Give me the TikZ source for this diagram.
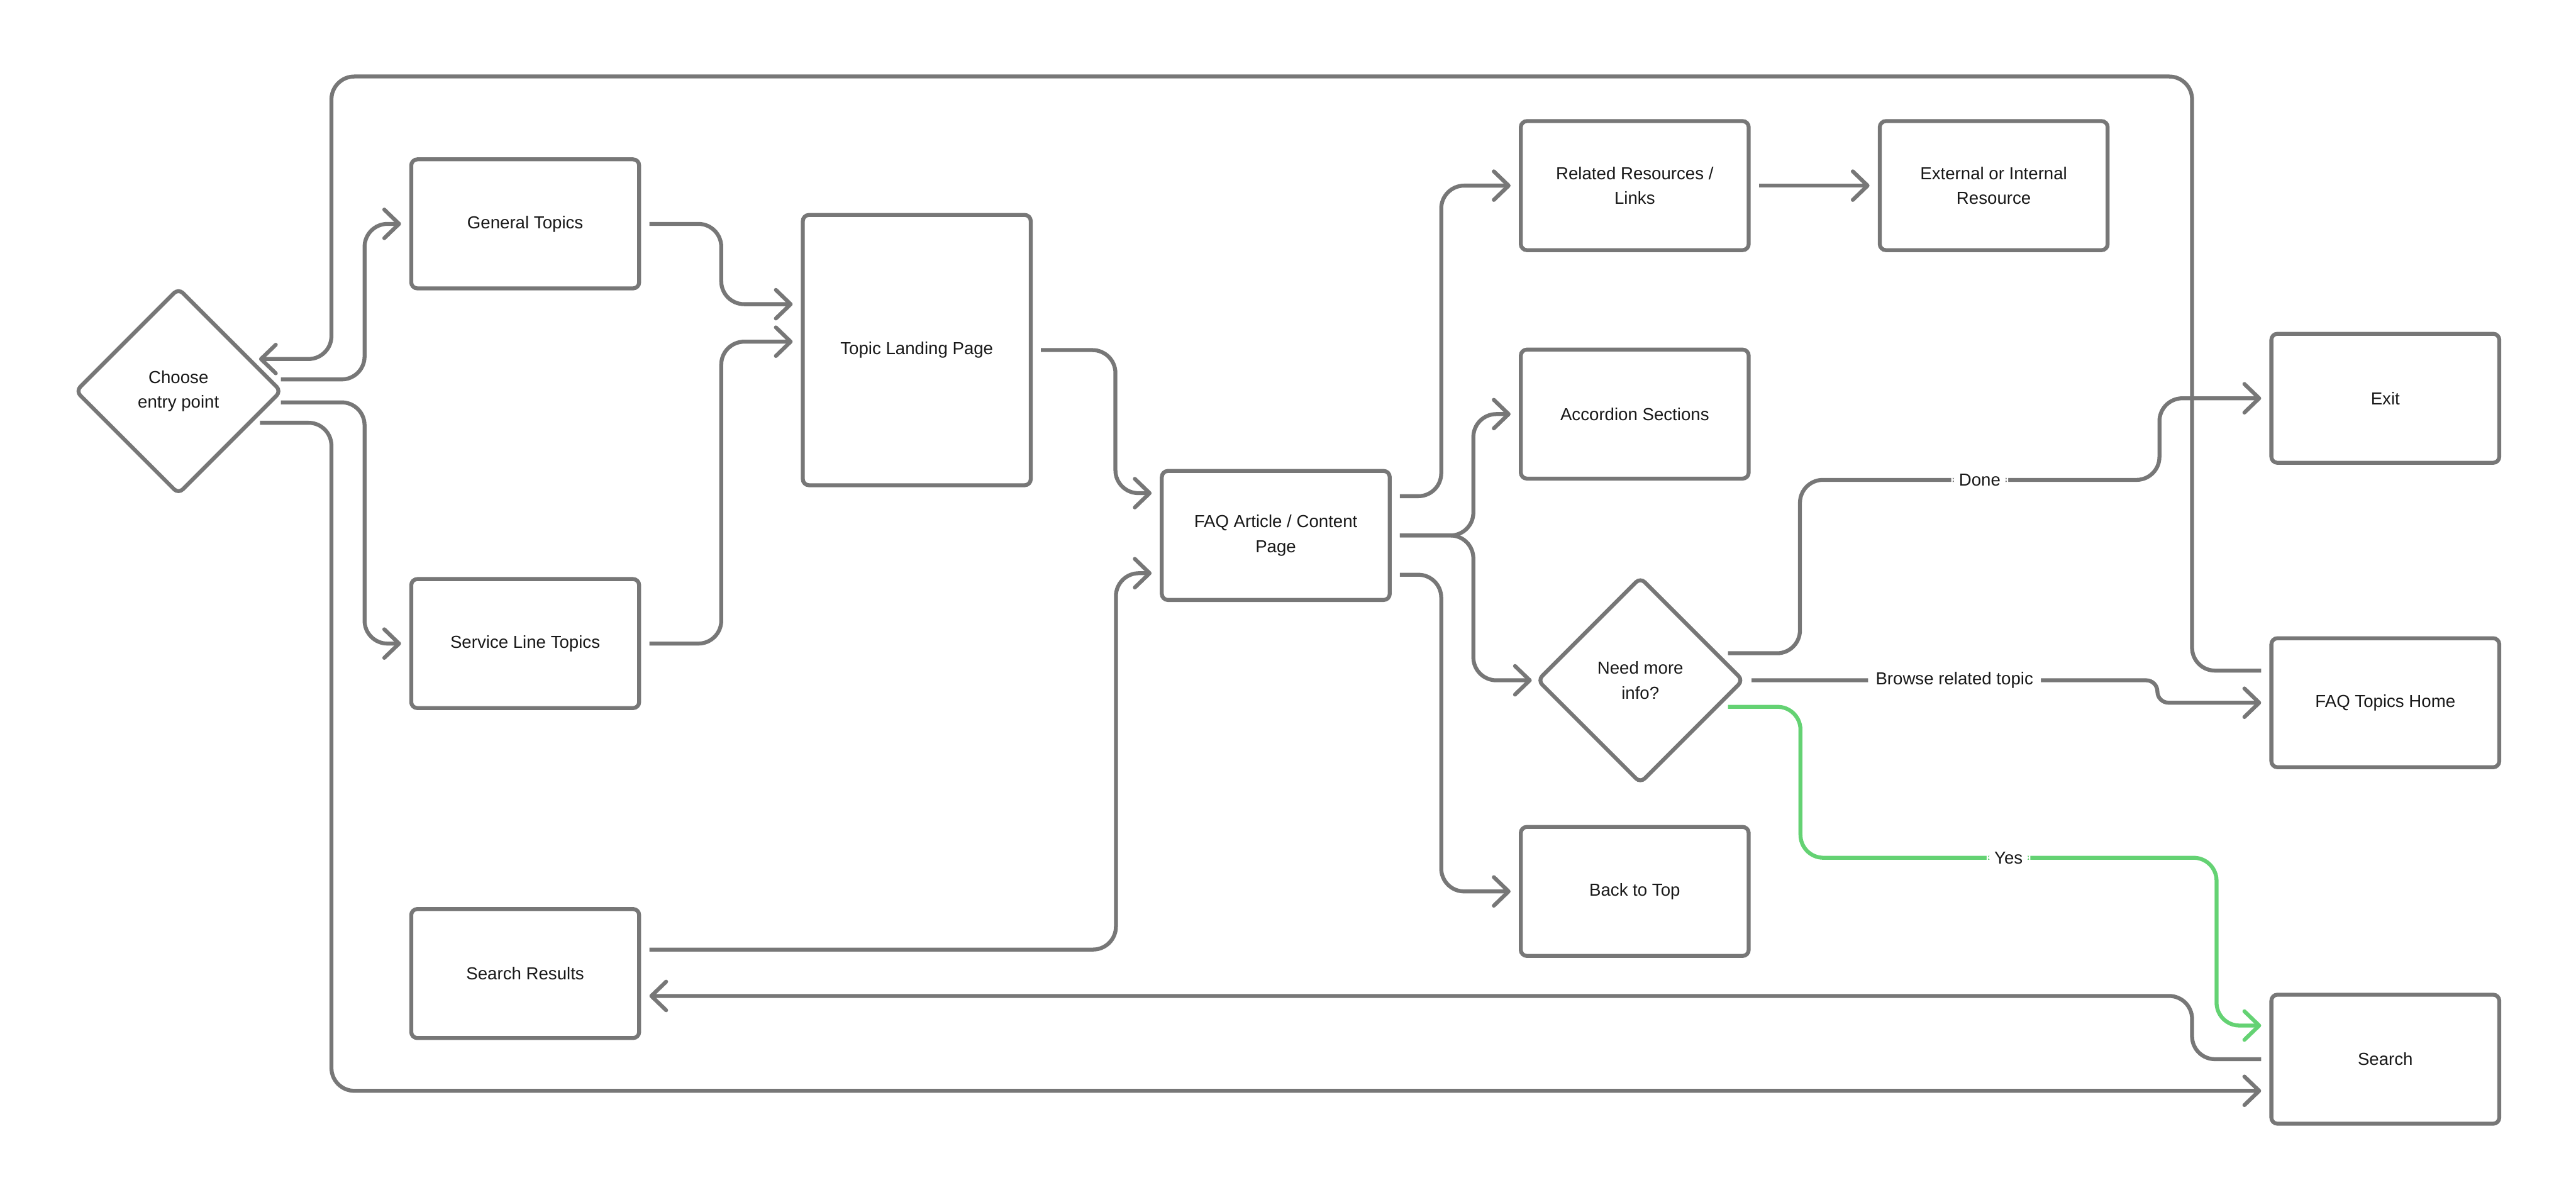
\documentclass[tikz,border=0pt]{standalone}
\usepackage{fontspec}
\setmainfont{Liberation Sans}
\usetikzlibrary{arrows.meta,positioning,calc,shapes.geometric}
\definecolor{linegray}{RGB}{119,119,119}
\definecolor{textdark}{RGB}{25,25,25}
\definecolor{yesgreen}{RGB}{100,210,115}

\begin{document}
\begin{tikzpicture}[
    every node/.style={font=\fontsize{9.7}{13.8}\selectfont, text=textdark},
    box/.style={draw=linegray, line width=2.2pt, rounded corners=0.12cm, fill=white, minimum width=4.47cm, minimum height=2.53cm, align=center, outer sep=0.2cm},
    decision/.style={draw=linegray, line width=2.2pt, diamond, aspect=1, rounded corners=0.12cm, minimum width=4.02cm, minimum height=4.02cm, inner sep=0pt, align=center, outer sep=0pt},
    flow/.style={draw=linegray, line width=2.2pt, rounded corners=0.45cm, -{Straight Barb[length=0.29cm, width=0.56cm, round]}},
    yesflow/.style={flow, draw=yesgreen},
    lbl/.style={fill=white, inner sep=0.15cm}
  ]
  \useasboundingbox (0,0) rectangle (50.52,-23.56);

  \node[decision] (choose) at (3.50,-7.67) {Choose\\entry point};
  \node[box] (gen) at (10.30,-4.39) {General Topics};
  \node[box, below=5.30cm of gen] (svc) {Service Line Topics};
  \node[box, below=3.54cm of svc] (sres) {Search Results};
  \node[box, minimum width=4.47cm, minimum height=5.30cm] (landing) at (17.98,-6.865) {Topic Landing Page};
  \node[box] (faq) at (25.02,-10.50) {FAQ Article / Content\\Page};
  \node[box] (related) at (32.06,-3.64) {Related Resources /\\Links};
  \node[box, right=2.17cm of related] (external) {External or Internal\\Resource};
  \node[box, below=1.55cm of related] (accordion) {Accordion Sections};
  \node[decision] (need) at (32.17,-13.34) {Need more\\info?};
  \node[box] (backtop) at (32.06,-17.48) {Back to Top};
  \node[box] (exitn) at (46.78,-7.81) {Exit};
  \node[box, below=3.04cm of exitn] (home) {FAQ Topics Home};
  \node[box, below=4.06cm of home] (search) {Search};

  % entry point
  \draw[flow] ($(choose.east)+(0,0.23)$) -- ++(1.64,0) |- (gen.west);
  \draw[flow] ($(choose.east)+(0,-0.22)$) -- ++(1.64,0) |- (svc.west);
  \draw[flow] ($(choose.east)+(-0.41,-0.62)$) -- ++(1.40,0) |- ([yshift=-0.62cm]search.west);
  \draw[flow] ([yshift=0.63cm]home.west) -| (42.99,-1.50) -| (6.50,-7.04) -- ($(choose.east)+(-0.43,0.63)$);

  % topics to content
  \draw[flow] (gen.east) -- ++(1.41,0) |- ([yshift=0.90cm]landing.west);
  \draw[flow] (svc.east) -- ++(1.41,0) |- ([yshift=0.165cm]landing.west);
  \draw[flow] (landing.east) -- ++(1.46,0) |- ([yshift=0.83cm]faq.west);
  \draw[flow] ([yshift=0.47cm]sres.east) -- ++(9.15,0) |- ([yshift=-0.74cm]faq.west);

  % content page
  \draw[flow] ([yshift=0.77cm]faq.east) -- ++(0.81,0) |- (related.west);
  \draw[flow] (faq.east) -- ++(1.44,0) |- (accordion.west);
  \draw[flow] (faq.east) -- ++(1.44,0) |- ([xshift=-0.12cm]need.west);
  \draw[flow] ([yshift=-0.77cm]faq.east) -- ++(0.81,0) |- (backtop.west);
  \draw[flow] (related.east) -- (external.west);

  % decision
  \draw[flow] ($(need.east)+(-0.29,0.53)$) -- ++(1.41,0) |- (42.35,-9.41) node[lbl, pos=0.75] {Done} |- (exitn.west);
  \draw[flow, rounded corners=0.22cm] ([xshift=0.17cm]need.east) -- node[lbl] {Browse related topic} (42.31,-13.34) |- (home.west);
  \draw[yesflow] ($(need.east)+(-0.29,-0.52)$) -- ++(1.42,0) |- (43.47,-16.82) node[lbl, pos=0.75] {Yes} |- ([yshift=0.66cm]search.west);
  \draw[flow] (search.west) -| (42.99,-19.53) -- ([yshift=-0.44cm]sres.east);
\end{tikzpicture}
\end{document}
